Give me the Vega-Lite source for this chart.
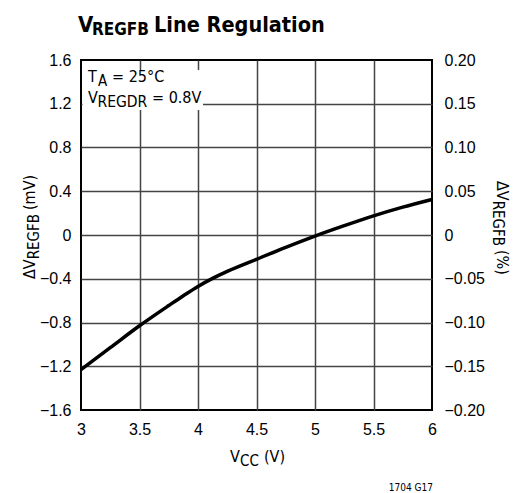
{
  "$schema": "https://vega.github.io/schema/vega-lite/v6.json",
  "width": 351,
  "height": 350,
  "autosize": {"type": "none"},
  "padding": {"left": 81, "top": 60, "right": 93, "bottom": 83},
  "background": "white",
  "config": {
    "view": {"stroke": "black", "strokeWidth": 2},
    "axis": {"labelFont": "Liberation Sans", "labelFontSize": 16, "labelColor": "black", "domain": false, "ticks": false, "tickSize": 0, "title": null},
    "text": {"font": "DejaVu Sans Condensed, Liberation Sans Narrow, Liberation Sans", "color": "black", "align": "left", "baseline": "alphabetic"}
  },
  "data": {
    "values": [
      {"vcc": 3.0, "dv": -1.23},
      {"vcc": 3.25, "dv": -1.03},
      {"vcc": 3.5, "dv": -0.83},
      {"vcc": 3.75, "dv": -0.645},
      {"vcc": 3.875, "dv": -0.555},
      {"vcc": 4.0, "dv": -0.47},
      {"vcc": 4.125, "dv": -0.397},
      {"vcc": 4.25, "dv": -0.333},
      {"vcc": 4.5, "dv": -0.222},
      {"vcc": 4.75, "dv": -0.113},
      {"vcc": 5.0, "dv": -0.01},
      {"vcc": 5.25, "dv": 0.085},
      {"vcc": 5.5, "dv": 0.175},
      {"vcc": 5.75, "dv": 0.255},
      {"vcc": 6.0, "dv": 0.325}
    ]
  },
  "layer": [
    {
      "data": {"values": [{}]},
      "mark": {"type": "rect", "fill": "white"},
      "encoding": {
        "x": {"datum": 3.0128},
        "x2": {"datum": 4.043},
        "y": {"datum": 1.5086, "axis": null},
        "y2": {"datum": 1.143}
      }
    },
    {
      "mark": {"type": "line", "color": "black", "strokeWidth": 3.5, "interpolate": "monotone"},
      "encoding": {
        "x": {
          "field": "vcc", "type": "quantitative",
          "scale": {"domain": [3, 6], "nice": false, "zero": false},
          "axis": {
            "values": [3, 3.5, 4, 4.5, 5, 5.5, 6], "format": "~g", "grid": true,
            "gridColor": "#444", "gridWidth": 1.5,
            "gridOpacity": {"condition": {"test": "datum.value == 3 || datum.value == 6", "value": 0}, "value": 1},
            "labelPadding": 11, "labelFlush": false, "labelOverlap": false
          }
        },
        "y": {
          "field": "dv", "type": "quantitative",
          "scale": {"domain": [-1.6, 1.6], "nice": false, "zero": false},
          "axis": {
            "orient": "left",
            "values": [-1.6, -1.2, -0.8, -0.4, 0, 0.4, 0.8, 1.2, 1.6], "format": ".1~f", "grid": true,
            "gridColor": "#444", "gridWidth": 1.5,
            "gridOpacity": {"condition": {"test": "abs(datum.value) > 1.5", "value": 0}, "value": 1},
            "labelPadding": 10, "labelOverlap": false
          }
        }
      }
    },
    {
      "mark": {"type": "line", "strokeOpacity": 0},
      "encoding": {
        "x": {"field": "vcc", "type": "quantitative"},
        "y": {
          "field": "dv", "type": "quantitative",
          "axis": {
            "orient": "right",
            "values": [-1.6, -1.2, -0.8, -0.4, 0, 0.4, 0.8, 1.2, 1.6],
            "labelExpr": "datum.value == 0 ? '0' : format(datum.value / 8, '.2f')",
            "grid": false, "labelPadding": 12, "labelOverlap": false
          }
        }
      }
    },
    {"data": {"values": [{}]}, "mark": {"type": "text", "text": "V", "fontWeight": "bold", "fontSize": 22}, "encoding": {"x": {"datum": 2.974}, "y": {"datum": 1.859, "axis": null}}},
    {"data": {"values": [{}]}, "mark": {"type": "text", "text": "REGFB", "fontWeight": "bold", "fontSize": 17, "dx": 14, "dy": 3.5}, "encoding": {"x": {"datum": 2.974}, "y": {"datum": 1.859, "axis": null}}},
    {"data": {"values": [{}]}, "mark": {"type": "text", "text": "Line Regulation", "fontWeight": "bold", "fontSize": 21.5, "dx": 76}, "encoding": {"x": {"datum": 2.974}, "y": {"datum": 1.859, "axis": null}}},

    {"data": {"values": [{}]}, "mark": {"type": "text", "text": "T", "fontSize": 16}, "encoding": {"x": {"datum": 3.0598}, "y": {"datum": 1.4034, "axis": null}}},
    {"data": {"values": [{}]}, "mark": {"type": "text", "text": "A", "fontSize": 15, "dx": 10, "dy": 4}, "encoding": {"x": {"datum": 3.0598}, "y": {"datum": 1.4034, "axis": null}}},
    {"data": {"values": [{}]}, "mark": {"type": "text", "text": "= 25°C", "fontSize": 16, "dx": 24}, "encoding": {"x": {"datum": 3.0598}, "y": {"datum": 1.4034, "axis": null}}},

    {"data": {"values": [{}]}, "mark": {"type": "text", "text": "V", "fontSize": 16}, "encoding": {"x": {"datum": 3.0598}, "y": {"datum": 1.2069, "axis": null}}},
    {"data": {"values": [{}]}, "mark": {"type": "text", "text": "REGDR", "fontSize": 15.5, "dx": 9.5, "dy": 4}, "encoding": {"x": {"datum": 3.0598}, "y": {"datum": 1.2069, "axis": null}}},
    {"data": {"values": [{}]}, "mark": {"type": "text", "text": "= 0.8V", "fontSize": 16, "dx": 64}, "encoding": {"x": {"datum": 3.0598}, "y": {"datum": 1.2069, "axis": null}}},

    {"data": {"values": [{}]}, "mark": {"type": "text", "text": "V", "fontSize": 16}, "encoding": {"x": {"datum": 4.2735}, "y": {"datum": -2.0754, "axis": null}}},
    {"data": {"values": [{}]}, "mark": {"type": "text", "text": "CC", "fontSize": 15, "dx": 10, "dy": 4}, "encoding": {"x": {"datum": 4.2735}, "y": {"datum": -2.0754, "axis": null}}},
    {"data": {"values": [{}]}, "mark": {"type": "text", "text": "(V)", "fontSize": 16, "dx": 34}, "encoding": {"x": {"datum": 4.2735}, "y": {"datum": -2.0754, "axis": null}}},

    {"data": {"values": [{}]}, "mark": {"type": "text", "text": "ΔV", "fontSize": 16, "angle": 270}, "encoding": {"x": {"datum": 2.6026}, "y": {"datum": -0.4023, "axis": null}}},
    {"data": {"values": [{}]}, "mark": {"type": "text", "text": "REGFB", "fontSize": 15, "angle": 270, "dx": 19.7, "dy": 4}, "encoding": {"x": {"datum": 2.6026}, "y": {"datum": -0.4023, "axis": null}}},
    {"data": {"values": [{}]}, "mark": {"type": "text", "text": "(mV)", "fontSize": 16, "angle": 270, "dx": 69}, "encoding": {"x": {"datum": 2.6026}, "y": {"datum": -0.4023, "axis": null}}},

    {"data": {"values": [{}]}, "mark": {"type": "text", "text": "ΔV", "fontSize": 16, "angle": 90}, "encoding": {"x": {"datum": 6.5556}, "y": {"datum": 0.4937, "axis": null}}},
    {"data": {"values": [{}]}, "mark": {"type": "text", "text": "REGFB", "fontSize": 15, "angle": 90, "dx": 19.7, "dy": 4}, "encoding": {"x": {"datum": 6.5556}, "y": {"datum": 0.4937, "axis": null}}},
    {"data": {"values": [{}]}, "mark": {"type": "text", "text": "(%)", "fontSize": 16, "angle": 90, "dx": 69}, "encoding": {"x": {"datum": 6.5556}, "y": {"datum": 0.4937, "axis": null}}},

    {"data": {"values": [{}]}, "mark": {"type": "text", "text": "1704 G17", "fontSize": 10, "align": "right"}, "encoding": {"x": {"datum": 6.0085}, "y": {"datum": -2.3406, "axis": null}}}
  ],
  "resolve": {"axis": {"y": "independent"}}
}
